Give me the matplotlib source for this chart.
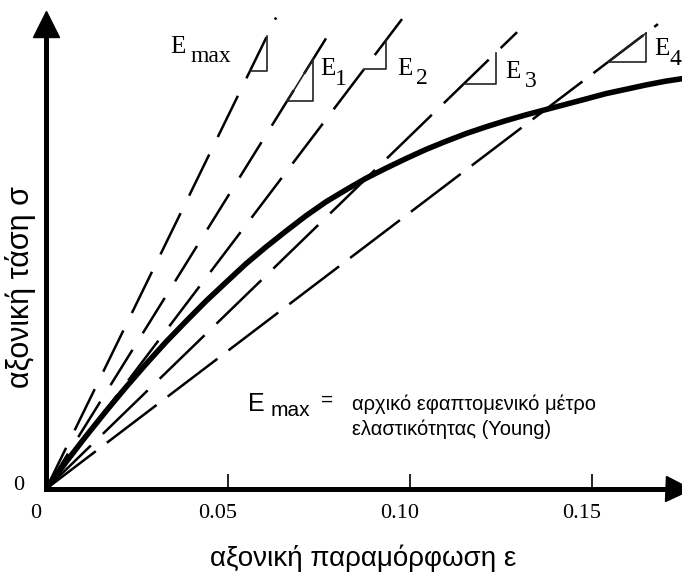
import matplotlib.pyplot as plt
from matplotlib.transforms import ScaledTranslation

plt.rcParams['lines.scale_dashes'] = False

W, H = 682, 577

# stress-strain curve (stress in arbitrary units, axis top = 100)
strain = [0, 0.0055, 0.0110, 0.0165, 0.0220, 0.0275, 0.0330, 0.0385, 0.0440,
          0.0495, 0.0549, 0.0604, 0.0659, 0.0714, 0.0769, 0.0824, 0.0879,
          0.0934, 0.0989, 0.1044, 0.1099, 0.1154, 0.1209, 0.1264, 0.1319,
          0.1374, 0.1429, 0.1484, 0.1538, 0.1593, 0.1648, 0.1703, 0.1747]
stress = [0, 5.6, 11.0, 16.2, 21.2, 26.0, 30.6, 34.9, 39.1,
          43.0, 46.8, 50.3, 53.6, 56.8, 59.7, 62.2, 64.6,
          66.7, 68.7, 70.6, 72.3, 73.9, 75.3, 76.6, 77.8,
          78.9, 80.0, 81.1, 82.2, 83.1, 84.0, 84.8, 85.3]

# dashed lines from the origin (Emax, E1..E4)
subs = ['max', '1', '2', '3', '4']
slopes = [1551, 1218, 999, 734, 575]
line_end = [0.0632, 0.0794, 0.0978, 0.1294, 0.1681]
dash_on = [33, 30, 36, 45, 45]
dash_off = [14, 14, 13, 12, 10]

# slope triangles: horizontal leg from tri_a to tri_b
tri_a = [0.0560, 0.0662, 0.0874, 0.1148, 0.1544]
tri_b = [0.0607, 0.0734, 0.0934, 0.1236, 0.1648]
tri_hyp = [False, True, False, False, True]

xticks = [0, 0.05, 0.10, 0.15]
xticklabels = ['0', '0.05', '0.10', '0.15']

xlabel = 'αξονική παραμόρφωση ε'
ylabel = 'αξονική τάση σ'
note1 = 'αρχικό εφαπτομενικό μέτρο'
note2 = 'ελαστικότητας (Young)'

SERIF = 'Liberation Serif'
SANS = 'Liberation Sans'


def fpos(x, y):
    # pixel position in the picture -> figure fraction
    return x / W, 1 - y / H


fig = plt.figure(figsize=(W / 100, H / 100), dpi=100)
ax = fig.add_axes([46 / W, (H - 489) / H, (W - 46) / W, 481 / H])
ax.set_xlim(0, 0.1747)
ax.set_ylim(0, 100)

# curve
ax.plot(strain, stress, color='k', lw=4, solid_joinstyle='round',
        solid_capstyle='round', zorder=4)

# modulus lines
for k in range(len(slopes)):
    e = line_end[k]
    ax.plot([0, e], [0, slopes[k] * e], color='k', lw=1.8,
            dashes=(dash_on[k], dash_off[k]), dash_capstyle='butt', zorder=3)
    a, b = tri_a[k], tri_b[k]
    ya, yb = slopes[k] * a, slopes[k] * b
    ax.plot([a, b, b], [ya, ya, yb], color='#222222', lw=1.2, zorder=3)
    if tri_hyp[k]:
        ax.plot([a, b], [ya, yb], color='#222222', lw=1.2, zorder=3)

# labels E_max, E_1 ... (pixel positions of the sketch)
e_pos = [(178, 53), (328, 75), (405, 75), (513, 78), (662, 55)]
s_pos = [(211, 62), (341, 85), (422, 84), (531, 87), (675, 65)]
for k in range(len(subs)):
    fig.text(*fpos(*e_pos[k]), 'E', family=SERIF, fontsize=18,
             ha='center', va='baseline')
    fig.text(*fpos(*s_pos[k]), subs[k], family=SERIF, fontsize=17,
             ha='center', va='baseline')

# note
fig.text(*fpos(256, 404), 'E', family=SANS, fontsize=18, ha='center', va='center')
fig.text(*fpos(290, 411), 'max', family=SANS, fontsize=15, ha='center', va='center')
fig.text(*fpos(327, 400), '=', family=SANS, fontsize=15, ha='center', va='center')
fig.text(*fpos(352, 404), note1, family=SANS, fontsize=14.5, ha='left', va='center')
fig.text(*fpos(352, 429), note2, family=SANS, fontsize=14.5, ha='left', va='center')

# axes
for s in ['top', 'right']:
    ax.spines[s].set_visible(False)
ax.spines['left'].set_linewidth(3.6)
ax.spines['bottom'].set_linewidth(3.6)
ax.spines['left'].set_bounds(0, 94)
ax.spines['bottom'].set_bounds(0, 0.170)
ax.plot([0], [0.966], marker='^', ms=19, color='k', transform=ax.transAxes,
        clip_on=False)
ax.plot([0.9937], [0], marker='>', ms=18, color='k', transform=ax.transAxes,
        clip_on=False)

ax.set_yticks([])
ax.set_xticks(xticks)
ax.set_xticklabels(xticklabels, family=SERIF, fontsize=16)
ax.tick_params(axis='x', direction='in', length=11, width=1.2, pad=11)
shift = ScaledTranslation(-10 / 100, 0, fig.dpi_scale_trans)
for lab in ax.get_xticklabels():
    lab.set_transform(lab.get_transform() + shift)

fig.text(*fpos(19, 486), '0', family=SERIF, fontsize=16, ha='center', va='center')

fig.text(*fpos(363, 558), xlabel, family=SANS, fontsize=20, ha='center', va='center')
fig.text(*fpos(21, 287), ylabel, family=SANS, fontsize=22, ha='center',
         va='center', rotation=90)

fig.savefig('out.png', dpi=100)
